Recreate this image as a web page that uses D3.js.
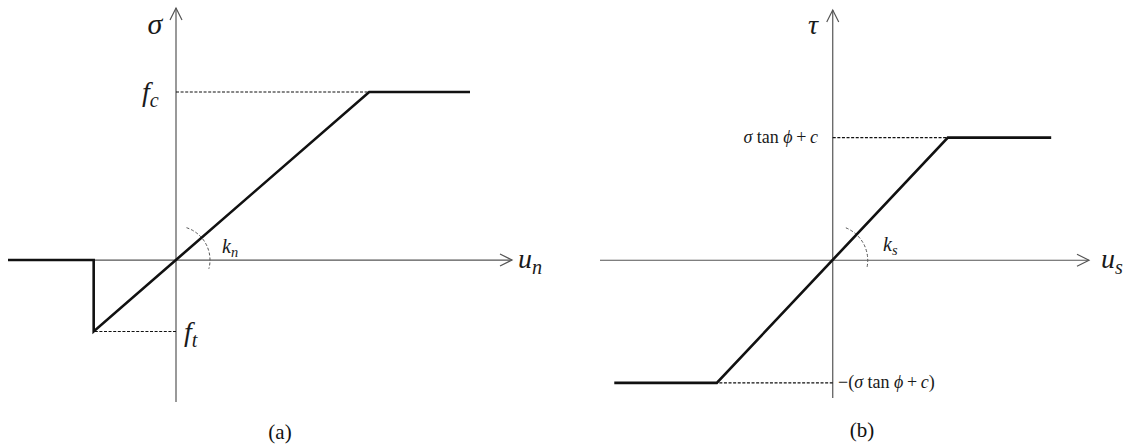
<!DOCTYPE html>
<html>
<head>
<meta charset="utf-8">
<script src="https://cdn.jsdelivr.net/npm/d3@7"></script>
<style>
  body { margin: 0; background: #fff; }
  text { font-family: "Liberation Serif", "DejaVu Serif", serif; }
</style>
</head>
<body>
<svg id="chart" width="1127" height="445"></svg>
<script>
// (a) normal behaviour: sigma vs u_n
const normalU = [-2, -0.98, -0.98, 2.3, 3.5];
const normalSigma = [0, 0, -0.85, 2.0, 2.0];
const normalUExtent = [-2, 4];
const normalSigmaExtent = [-1.69, 3];

// (b) shear behaviour: tau vs u_s
const shearU = [-2.6, -1.38, 1.37, 2.6];
const shearTau = [-1.46, -1.46, 1.46, 1.46];
const shearUExtent = [-2.77, 3.05];
const shearTauExtent = [-1.64, 2.98];

const svg = d3.select('#chart');

function drawPanel(cfg) {
    const x = d3.scaleLinear().domain(cfg.xExtent).range(cfg.xRange);
    const y = d3.scaleLinear().domain(cfg.yExtent).range(cfg.yRange);
    const g = svg.append('g');
    const x0 = x(0), y0 = y(0);
    const axisColor = '#555';

    // axes
    g.append('line')
        .attr('x1', x(cfg.xExtent[0])).attr('x2', x(cfg.xExtent[1]))
        .attr('y1', y0).attr('y2', y0)
        .attr('stroke', axisColor).attr('stroke-width', 1.2);
    g.append('line')
        .attr('x1', x0).attr('x2', x0)
        .attr('y1', y(cfg.yExtent[0])).attr('y2', y(cfg.yExtent[1]))
        .attr('stroke', axisColor).attr('stroke-width', 1.2);

    // open arrow heads
    const xe = x(cfg.xExtent[1]), ye = y(cfg.yExtent[1]);
    g.append('path')
        .attr('d', `M${xe - 12},${y0 - 6}L${xe},${y0}L${xe - 12},${y0 + 6}`)
        .attr('fill', 'none').attr('stroke', axisColor).attr('stroke-width', 1.2);
    g.append('path')
        .attr('d', `M${x0 - 6},${ye + 12}L${x0},${ye}L${x0 + 6},${ye + 12}`)
        .attr('fill', 'none').attr('stroke', axisColor).attr('stroke-width', 1.2);

    // dashed guide lines
    cfg.guides.forEach(gd => {
        g.append('line')
            .attr('x1', x0).attr('x2', x(gd.u))
            .attr('y1', y(gd.v)).attr('y2', y(gd.v))
            .attr('stroke', '#111').attr('stroke-width', 1.1)
            .attr('stroke-dasharray', '3,1.6');
    });

    // stiffness arc
    const p = d3.path();
    p.arc(x0, y0, cfg.arcR, cfg.arcAngles[0] * Math.PI / 180, cfg.arcAngles[1] * Math.PI / 180);
    g.append('path')
        .attr('d', p.toString())
        .attr('fill', 'none').attr('stroke', '#555').attr('stroke-width', 1)
        .attr('stroke-dasharray', '3,2');

    // constitutive curve
    const line = d3.line().x(d => x(d[0])).y(d => y(d[1]));
    g.append('path')
        .datum(d3.zip(cfg.u, cfg.v))
        .attr('d', line)
        .attr('fill', 'none').attr('stroke', '#111').attr('stroke-width', 2.6)
        .attr('stroke-linejoin', 'miter');

    return g;
}

function mathLabel(g, x, y, size, parts, anchor) {
    const t = g.append('text')
        .attr('x', x).attr('y', y)
        .attr('font-size', size)
        .attr('text-anchor', anchor || 'start')
        .attr('fill', '#1a1a1a');
    parts.forEach(pt => {
        const s = t.append('tspan').text(pt.t);
        if (pt.i) s.attr('font-style', 'italic');
        if (pt.sub) s.attr('font-size', size * 0.72).attr('dy', size * 0.2);
    });
    return t;
}

// panel (a)
const ga = drawPanel({
    xExtent: normalUExtent, yExtent: normalSigmaExtent,
    xRange: [8, 512], yRange: [402, 8],
    u: normalU, v: normalSigma,
    guides: [{ u: 2.3, v: 2.0 }, { u: -0.98, v: -0.85 }],
    arcR: 34, arcAngles: [-72, 15]
});
mathLabel(ga, 155, 34, 30, [{ t: 'σ', i: 1 }], 'middle');
mathLabel(ga, 142, 101, 28, [{ t: 'f', i: 1 }, { t: 'c', i: 1, sub: 1 }]);
mathLabel(ga, 184, 341, 28, [{ t: 'f', i: 1 }, { t: 't', i: 1, sub: 1 }]);
mathLabel(ga, 222, 253, 20, [{ t: 'k', i: 1 }, { t: 'n', i: 1, sub: 1 }]);
mathLabel(ga, 518, 268, 28, [{ t: 'u', i: 1 }, { t: 'n', i: 1, sub: 1 }]);
ga.append('text').attr('x', 280).attr('y', 439).attr('font-size', 21)
    .attr('text-anchor', 'middle').attr('fill', '#111').text('(a)');

// panel (b)
const gb = drawPanel({
    xExtent: shearUExtent, yExtent: shearTauExtent,
    xRange: [600, 1089], yRange: [398, 10],
    u: shearU, v: shearTau,
    guides: [{ u: 1.37, v: 1.46 }, { u: -1.38, v: -1.46 }],
    arcR: 35, arcAngles: [-68, 14]
});
mathLabel(gb, 813, 34, 28, [{ t: 'τ', i: 1 }], 'middle');
mathLabel(gb, 818, 143, 18, [
    { t: 'σ', i: 1 }, { t: ' tan ' }, { t: 'ϕ', i: 1 }, { t: '\u2009+\u2009' }, { t: 'c', i: 1 }
], 'end');
mathLabel(gb, 838, 388, 18, [
    { t: '−(' }, { t: 'σ', i: 1 }, { t: ' tan ' }, { t: 'ϕ', i: 1 }, { t: '\u2009+\u2009' }, { t: 'c', i: 1 }, { t: ')' }
]);
mathLabel(gb, 883, 251, 20, [{ t: 'k', i: 1 }, { t: 's', i: 1, sub: 1 }]);
mathLabel(gb, 1101, 268, 28, [{ t: 'u', i: 1 }, { t: 's', i: 1, sub: 1 }]);
gb.append('text').attr('x', 862).attr('y', 437).attr('font-size', 21)
    .attr('text-anchor', 'middle').attr('fill', '#111').text('(b)');
</script>
</body>
</html>
